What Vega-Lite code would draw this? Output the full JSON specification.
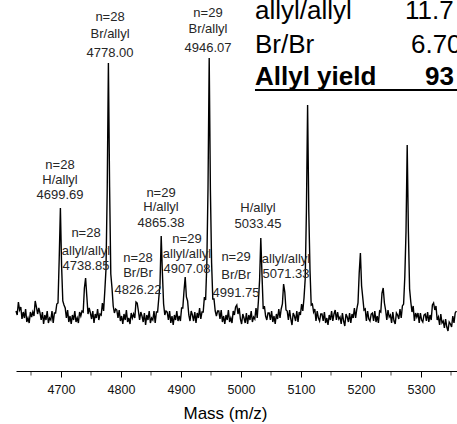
{
"$schema": "https://vega.github.io/schema/vega-lite/v6.json",
"width": 441, "height": 371,
"autosize": {"type": "none"},
"padding": {"left": 16, "top": 0, "right": 0, "bottom": 53},
"config": {"view": {"stroke": null}, "font": "Liberation Sans"},
"datasets": {
"spectrum": [
{"mz":4625,"i":60},{"mz":4627,"i":56},{"mz":4629,"i":69},{"mz":4631,"i":61},{"mz":4633,"i":64},{"mz":4635,"i":52},{"mz":4637,"i":59},{"mz":4639,"i":53},{"mz":4641,"i":62},{"mz":4643,"i":49},
{"mz":4645,"i":53},{"mz":4647,"i":48},{"mz":4649,"i":59},{"mz":4651,"i":54},{"mz":4653,"i":59},{"mz":4655,"i":55},{"mz":4657,"i":70},{"mz":4659,"i":64},{"mz":4661,"i":57},{"mz":4663,"i":63},
{"mz":4665,"i":58},{"mz":4667,"i":51},{"mz":4669,"i":59},{"mz":4671,"i":47},{"mz":4673,"i":56},{"mz":4675,"i":51},{"mz":4677,"i":60},{"mz":4679,"i":48},{"mz":4681,"i":53},{"mz":4683,"i":51},
{"mz":4685,"i":60},{"mz":4687,"i":48},{"mz":4689,"i":58},{"mz":4691,"i":58},{"mz":4693,"i":67},{"mz":4695,"i":68},{"mz":4697,"i":112},{"mz":4699,"i":163},{"mz":4701,"i":105},{"mz":4703,"i":70},
{"mz":4705,"i":66},{"mz":4707,"i":63},{"mz":4709,"i":53},{"mz":4711,"i":61},{"mz":4713,"i":49},{"mz":4715,"i":55},{"mz":4717,"i":47},{"mz":4719,"i":56},{"mz":4721,"i":51},{"mz":4723,"i":60},
{"mz":4725,"i":49},{"mz":4727,"i":53},{"mz":4729,"i":48},{"mz":4731,"i":59},{"mz":4733,"i":55},{"mz":4735,"i":60},{"mz":4737,"i":59},{"mz":4739,"i":83},{"mz":4741,"i":93},{"mz":4743,"i":75},
{"mz":4745,"i":57},{"mz":4747,"i":63},{"mz":4749,"i":58},{"mz":4751,"i":52},{"mz":4753,"i":60},{"mz":4755,"i":48},{"mz":4757,"i":57},{"mz":4759,"i":53},{"mz":4761,"i":62},{"mz":4763,"i":51},
{"mz":4765,"i":57},{"mz":4767,"i":56},{"mz":4769,"i":68},{"mz":4771,"i":60},{"mz":4773,"i":80},{"mz":4775,"i":102},{"mz":4777,"i":180},{"mz":4779,"i":308},{"mz":4781,"i":184},{"mz":4783,"i":97},
{"mz":4785,"i":83},{"mz":4787,"i":65},{"mz":4789,"i":58},{"mz":4791,"i":62},{"mz":4793,"i":61},{"mz":4795,"i":53},{"mz":4797,"i":61},{"mz":4799,"i":50},{"mz":4801,"i":55},{"mz":4803,"i":47},
{"mz":4805,"i":57},{"mz":4807,"i":51},{"mz":4809,"i":61},{"mz":4811,"i":49},{"mz":4813,"i":53},{"mz":4815,"i":47},{"mz":4817,"i":58},{"mz":4819,"i":53},{"mz":4821,"i":57},{"mz":4823,"i":53},
{"mz":4825,"i":69},{"mz":4827,"i":68},{"mz":4829,"i":60},{"mz":4831,"i":51},{"mz":4833,"i":59},{"mz":4835,"i":55},{"mz":4837,"i":49},{"mz":4839,"i":58},{"mz":4841,"i":46},{"mz":4843,"i":56},
{"mz":4845,"i":51},{"mz":4847,"i":60},{"mz":4849,"i":48},{"mz":4851,"i":53},{"mz":4853,"i":51},{"mz":4855,"i":60},{"mz":4857,"i":48},{"mz":4859,"i":59},{"mz":4861,"i":59},{"mz":4863,"i":73},
{"mz":4865,"i":87},{"mz":4867,"i":135},{"mz":4869,"i":98},{"mz":4871,"i":67},{"mz":4873,"i":56},{"mz":4875,"i":60},{"mz":4877,"i":59},{"mz":4879,"i":51},{"mz":4881,"i":60},{"mz":4883,"i":48},
{"mz":4885,"i":55},{"mz":4887,"i":46},{"mz":4889,"i":56},{"mz":4891,"i":51},{"mz":4893,"i":60},{"mz":4895,"i":50},{"mz":4897,"i":55},{"mz":4899,"i":50},{"mz":4901,"i":63},{"mz":4903,"i":63},
{"mz":4905,"i":80},{"mz":4907,"i":94},{"mz":4909,"i":74},{"mz":4911,"i":70},{"mz":4913,"i":56},{"mz":4915,"i":50},{"mz":4917,"i":60},{"mz":4919,"i":56},{"mz":4921,"i":50},{"mz":4923,"i":59},
{"mz":4925,"i":48},{"mz":4927,"i":58},{"mz":4929,"i":53},{"mz":4931,"i":63},{"mz":4933,"i":52},{"mz":4935,"i":59},{"mz":4937,"i":59},{"mz":4939,"i":74},{"mz":4941,"i":71},{"mz":4943,"i":106},
{"mz":4945,"i":182},{"mz":4947,"i":313},{"mz":4949,"i":181},{"mz":4951,"i":108},{"mz":4953,"i":72},{"mz":4955,"i":72},{"mz":4957,"i":60},{"mz":4959,"i":55},{"mz":4961,"i":60},{"mz":4963,"i":60},
{"mz":4965,"i":52},{"mz":4967,"i":61},{"mz":4969,"i":49},{"mz":4971,"i":55},{"mz":4973,"i":47},{"mz":4975,"i":56},{"mz":4977,"i":51},{"mz":4979,"i":61},{"mz":4981,"i":49},{"mz":4983,"i":53},
{"mz":4985,"i":48},{"mz":4987,"i":60},{"mz":4989,"i":56},{"mz":4991,"i":64},{"mz":4993,"i":66},{"mz":4995,"i":57},{"mz":4997,"i":63},{"mz":4999,"i":52},{"mz":5001,"i":47},{"mz":5003,"i":57},
{"mz":5005,"i":53},{"mz":5007,"i":48},{"mz":5009,"i":58},{"mz":5011,"i":47},{"mz":5013,"i":56},{"mz":5015,"i":51},{"mz":5017,"i":60},{"mz":5019,"i":49},{"mz":5021,"i":54},{"mz":5023,"i":52},
{"mz":5025,"i":63},{"mz":5027,"i":53},{"mz":5029,"i":70},{"mz":5031,"i":91},{"mz":5033,"i":133},{"mz":5035,"i":96},{"mz":5037,"i":62},{"mz":5039,"i":65},{"mz":5041,"i":55},{"mz":5043,"i":51},
{"mz":5045,"i":58},{"mz":5047,"i":58},{"mz":5049,"i":51},{"mz":5051,"i":60},{"mz":5053,"i":49},{"mz":5055,"i":55},{"mz":5057,"i":47},{"mz":5059,"i":57},{"mz":5061,"i":52},{"mz":5063,"i":62},
{"mz":5065,"i":53},{"mz":5067,"i":62},{"mz":5069,"i":67},{"mz":5071,"i":87},{"mz":5073,"i":79},{"mz":5075,"i":61},{"mz":5077,"i":60},{"mz":5079,"i":51},{"mz":5081,"i":61},{"mz":5083,"i":52},
{"mz":5085,"i":46},{"mz":5087,"i":58},{"mz":5089,"i":55},{"mz":5091,"i":50},{"mz":5093,"i":60},{"mz":5095,"i":49},{"mz":5097,"i":59},{"mz":5099,"i":56},{"mz":5101,"i":67},{"mz":5103,"i":60},
{"mz":5105,"i":73},{"mz":5107,"i":92},{"mz":5109,"i":159},{"mz":5111,"i":266},{"mz":5113,"i":159},{"mz":5115,"i":101},{"mz":5117,"i":66},{"mz":5119,"i":67},{"mz":5121,"i":59},{"mz":5123,"i":62},
{"mz":5125,"i":50},{"mz":5127,"i":60},{"mz":5129,"i":53},{"mz":5131,"i":50},{"mz":5133,"i":57},{"mz":5135,"i":57},{"mz":5137,"i":50},{"mz":5139,"i":59},{"mz":5141,"i":48},{"mz":5143,"i":53},
{"mz":5145,"i":46},{"mz":5147,"i":56},{"mz":5149,"i":51},{"mz":5151,"i":60},{"mz":5153,"i":50},{"mz":5155,"i":57},{"mz":5157,"i":61},{"mz":5159,"i":51},{"mz":5161,"i":59},{"mz":5163,"i":52},
{"mz":5165,"i":54},{"mz":5167,"i":47},{"mz":5169,"i":58},{"mz":5171,"i":50},{"mz":5173,"i":45},{"mz":5175,"i":57},{"mz":5177,"i":54},{"mz":5179,"i":49},{"mz":5181,"i":58},{"mz":5183,"i":48},
{"mz":5185,"i":57},{"mz":5187,"i":53},{"mz":5189,"i":63},{"mz":5191,"i":53},{"mz":5193,"i":62},{"mz":5195,"i":68},{"mz":5197,"i":98},{"mz":5199,"i":118},{"mz":5201,"i":85},{"mz":5203,"i":73},
{"mz":5205,"i":61},{"mz":5207,"i":62},{"mz":5209,"i":50},{"mz":5211,"i":60},{"mz":5213,"i":52},{"mz":5215,"i":50},{"mz":5217,"i":57},{"mz":5219,"i":58},{"mz":5221,"i":50},{"mz":5223,"i":60},
{"mz":5225,"i":49},{"mz":5227,"i":55},{"mz":5229,"i":48},{"mz":5231,"i":60},{"mz":5233,"i":59},{"mz":5235,"i":78},{"mz":5237,"i":83},{"mz":5239,"i":68},{"mz":5241,"i":61},{"mz":5243,"i":51},
{"mz":5245,"i":61},{"mz":5247,"i":54},{"mz":5249,"i":56},{"mz":5251,"i":48},{"mz":5253,"i":59},{"mz":5255,"i":50},{"mz":5257,"i":47},{"mz":5259,"i":58},{"mz":5261,"i":56},{"mz":5263,"i":52},
{"mz":5265,"i":62},{"mz":5267,"i":53},{"mz":5269,"i":65},{"mz":5271,"i":67},{"mz":5273,"i":94},{"mz":5275,"i":139},{"mz":5277,"i":226},{"mz":5279,"i":139},{"mz":5281,"i":82},{"mz":5283,"i":69},
{"mz":5285,"i":59},{"mz":5287,"i":65},{"mz":5289,"i":50},{"mz":5291,"i":58},{"mz":5293,"i":54},{"mz":5295,"i":58},{"mz":5297,"i":48},{"mz":5299,"i":58},{"mz":5301,"i":51},{"mz":5303,"i":49},
{"mz":5305,"i":56},{"mz":5307,"i":57},{"mz":5309,"i":50},{"mz":5311,"i":59},{"mz":5313,"i":49},{"mz":5315,"i":56},{"mz":5317,"i":51},{"mz":5319,"i":66},{"mz":5321,"i":68},{"mz":5323,"i":61},
{"mz":5325,"i":65},{"mz":5327,"i":51},{"mz":5329,"i":54},{"mz":5331,"i":46},{"mz":5333,"i":57},{"mz":5335,"i":48},{"mz":5337,"i":50},{"mz":5339,"i":43},{"mz":5341,"i":52},{"mz":5343,"i":44},
{"mz":5345,"i":40},{"mz":5347,"i":49},{"mz":5349,"i":47},{"mz":5351,"i":44},{"mz":5353,"i":55},{"mz":5355,"i":48},{"mz":5357,"i":58},{"mz":5359,"i":60}
],
"labels": [
{"mz":4781.7,"i":354,"text":"n=28"},{"mz":4781.7,"i":337,"text":"Br/allyl"},{"mz":4781.7,"i":318,"text":"4778.00"},
{"mz":4945,"i":358,"text":"n=29"},{"mz":4945,"i":342,"text":"Br/allyl"},{"mz":4945,"i":323,"text":"4946.07"},
{"mz":4698.3,"i":206,"text":"n=28"},{"mz":4698.3,"i":191,"text":"H/allyl"},{"mz":4698.3,"i":176,"text":"4699.69"},
{"mz":4741.7,"i":138,"text":"n=28"},{"mz":4741.7,"i":120,"text":"allyl/allyl"},{"mz":4741.7,"i":105,"text":"4738.85"},
{"mz":4828.3,"i":113,"text":"n=28"},{"mz":4828.3,"i":98,"text":"Br/Br"},{"mz":4828.3,"i":81,"text":"4826.22"},
{"mz":4866.7,"i":178,"text":"n=29"},{"mz":4866.7,"i":164,"text":"H/allyl"},{"mz":4866.7,"i":148,"text":"4865.38"},
{"mz":4910,"i":132,"text":"n=29"},{"mz":4910,"i":117,"text":"allyl/allyl"},{"mz":4910,"i":102,"text":"4907.08"},
{"mz":4991.7,"i":114,"text":"n=29"},{"mz":4991.7,"i":96,"text":"Br/Br"},{"mz":4991.7,"i":78,"text":"4991.75"},
{"mz":5028.3,"i":163,"text":"H/allyl"},{"mz":5028.3,"i":147,"text":"5033.45"},
{"mz":5075,"i":112,"text":"allyl/allyl"},{"mz":5075,"i":97,"text":"5071.33"}
],
"table": [
{"row":1,"mz":5023.3,"i":352,"text":"allyl/allyl"},{"row":1,"mz":5273.3,"i":352,"text":"11.7"},
{"row":2,"mz":5023.3,"i":318,"text":"Br/Br"},{"row":2,"mz":5283.3,"i":318,"text":"6.70"},
{"row":3,"mz":5023.3,"i":286,"text":"Allyl yield"},{"row":3,"mz":5306.7,"i":286,"text":"93"}
],
"underline": [{"mz":5023.3,"mz2":5360,"i":281}],
"minorTicks": [{"mz":4650},{"mz":4750},{"mz":4850},{"mz":4950},{"mz":5050},{"mz":5150},{"mz":5250},{"mz":5350}]
},
"layer": [
{"data": {"name": "spectrum"},
 "mark": {"type": "line", "color": "#000000", "strokeWidth": 1.4},
 "encoding": {
  "x": {"field": "mz", "type": "quantitative", "title": "Mass (m/z)",
   "scale": {"domain": [4625, 5360], "nice": false, "zero": false},
   "axis": {"values": [4700,4800,4900,5000,5100,5200,5300],
    "format": "d", "labelOverlap": false,
    "grid": false, "domainColor": "#000000", "domainWidth": 1, "tickColor": "#000000", "tickWidth": 1,
    "tickSize": 6,
    "labelFont": "Liberation Sans", "labelFontSize": 12.5, "labelColor": "#111111", "labelPadding": 6,
    "titleFont": "Liberation Sans", "titleFontSize": 17, "titleFontWeight": "normal", "titleColor": "#000000",
    "titleX": 209, "titleY": 47, "titleBaseline": "alphabetic", "titleAlign": "center", "titleAnchor": "start"}},
  "y": {"field": "i", "type": "quantitative", "scale": {"domain": [0, 371], "nice": false}, "axis": null}
 }},
{"data": {"name": "minorTicks"},
 "mark": {"type": "tick", "orient": "vertical", "color": "#000000", "thickness": 1, "size": 4, "clip": false},
 "encoding": {
  "x": {"field": "mz", "type": "quantitative"},
  "y": {"datum": -2.5, "type": "quantitative", "axis": null}
 }},
{"data": {"name": "labels"},
 "mark": {"type": "text", "fontSize": 13, "color": "#262626", "align": "center", "baseline": "middle", "font": "Liberation Sans"},
 "encoding": {
  "x": {"field": "mz", "type": "quantitative"},
  "y": {"field": "i", "type": "quantitative", "axis": null},
  "text": {"field": "text"}
 }},
{"data": {"name": "table"},
 "transform": [{"filter": "datum.row !== 3"}],
 "mark": {"type": "text", "fontSize": 26, "color": "#000000", "align": "left", "baseline": "alphabetic", "font": "Liberation Sans", "clip": false},
 "encoding": {
  "x": {"field": "mz", "type": "quantitative"},
  "y": {"field": "i", "type": "quantitative", "axis": null},
  "text": {"field": "text"}
 }},
{"data": {"name": "table"},
 "transform": [{"filter": "datum.row === 3"}],
 "mark": {"type": "text", "fontSize": 26, "fontWeight": "bold", "color": "#000000", "align": "left", "baseline": "alphabetic", "font": "Liberation Sans", "clip": false},
 "encoding": {
  "x": {"field": "mz", "type": "quantitative"},
  "y": {"field": "i", "type": "quantitative", "axis": null},
  "text": {"field": "text"}
 }},
{"data": {"name": "underline"},
 "mark": {"type": "rule", "color": "#000000", "strokeWidth": 2},
 "encoding": {
  "x": {"field": "mz", "type": "quantitative"},
  "x2": {"field": "mz2"},
  "y": {"field": "i", "type": "quantitative", "axis": null}
 }}
]
}
